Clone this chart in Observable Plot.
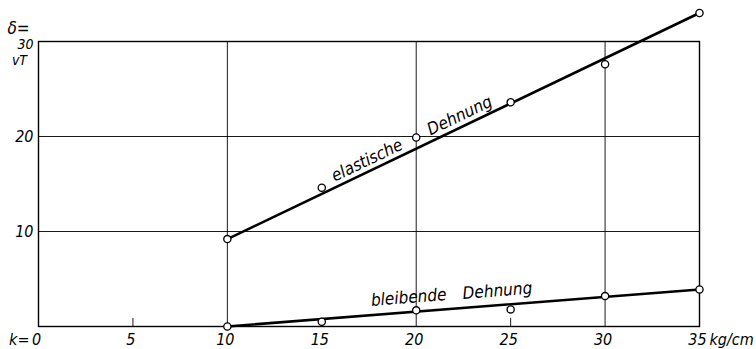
<!DOCTYPE html>
<html>
<head>
<meta charset="utf-8">
<script src="https://cdn.jsdelivr.net/npm/d3@7"></script>
<script src="https://cdn.jsdelivr.net/npm/@observablehq/plot@0.6"></script>
<style>
  html, body { margin: 0; padding: 0; background: #fff; }
  #chart svg { display: block; }
</style>
</head>
<body>
<div id="chart"></div>
<script>
// Load in kg/cm
const loads = [10, 15, 20, 25, 30, 35];
// measured elastic strain (elastische Dehnung)
const elastic = [9.2, 14.6, 19.9, 23.6, 27.6, 33.0];
// measured permanent strain (bleibende Dehnung)
const permanent = [0, 0.5, 1.7, 1.8, 3.2, 3.9];
// straight fitted lines
const fitX = [10, 35];
const elasticFit = [9.2, 33.0];
const permanentFit = [0, 3.9];
// axis ticks
const xTicks = [0, 5, 10, 15, 20, 25, 30, 35];
const xGrid = [10, 20, 30];
const xShortTicks = [5, 15, 25];
const yTicks = [10, 20];
const yGrid = [10, 20];

const font = "'DejaVu Sans Condensed', 'DejaVu Sans', sans-serif";

const elasticPts = loads.map((x, i) => ({x, y: elastic[i]}));
const permPts = loads.map((x, i) => ({x, y: permanent[i]}));
const elasticLine = fitX.map((x, i) => ({x, y: elasticFit[i]}));
const permLine = fitX.map((x, i) => ({x, y: permanentFit[i]}));

const txt = {fontFamily: font, fontStyle: "italic", fontSize: 16, fill: "black"};

const chart = Plot.plot({
  width: 756,
  height: 349,
  marginLeft: 38,
  marginRight: 57,
  marginTop: 41,
  marginBottom: 23,
  style: {fontFamily: font, background: "white", overflow: "visible"},
  x: {domain: [0, 35], axis: null},
  y: {domain: [0, 30], axis: null},
  marks: [
    Plot.ruleX(xGrid, {y1: 0, y2: 30, stroke: "black", strokeWidth: 0.9}),
    Plot.ruleY(yGrid, {x1: 0, x2: 35, stroke: "black", strokeWidth: 0.9}),
    Plot.ruleX(xShortTicks, {y1: 0, y2: 0.85, stroke: "black", strokeWidth: 0.9}),
    Plot.frame({stroke: "black", strokeWidth: 1.4}),
    Plot.line(elasticLine, {x: "x", y: "y", stroke: "black", strokeWidth: 2.6}),
    Plot.line(permLine, {x: "x", y: "y", stroke: "black", strokeWidth: 2.6}),
    Plot.dot(elasticPts, {x: "x", y: "y", r: 3.6, fill: "white", stroke: "black", strokeWidth: 1.3}),
    Plot.dot(permPts, {x: "x", y: "y", r: 3.6, fill: "white", stroke: "black", strokeWidth: 1.3}),
    // x tick labels
    Plot.text(xTicks, {x: d => d, y: 0, text: d => String(d), dy: 13, dx: -2, ...txt}),
    Plot.text(["k="], {x: 0, y: 0, text: d => d, dy: 13, dx: -9, textAnchor: "end", ...txt}),
    Plot.text(["kg/cm"], {x: 35, y: 0, text: d => d, dy: 13, dx: 10, textAnchor: "start", ...txt}),
    // y tick labels
    Plot.text(yTicks, {x: 0, y: d => d, text: d => String(d), dx: -5, textAnchor: "end", ...txt}),
    Plot.text(["30"], {x: 0, y: 30, text: d => d, dx: -5, dy: 3, textAnchor: "end", ...txt, fontSize: 14}),
    Plot.text(["δ="], {x: 0, y: 30, text: d => d, dx: -20, dy: -13, ...txt, fontSize: 17}),
    Plot.text(["vT"], {x: 0, y: 30, text: d => d, dx: -19, dy: 19, ...txt, fontSize: 14}),
    // line labels
    Plot.text(["elastische"], {x: 17.4, y: 17.5, text: d => d, rotate: -25.6, ...txt, fontSize: 17}),
    Plot.text(["Dehnung"], {x: 22.3, y: 22.2, text: d => d, rotate: -25.6, ...txt, fontSize: 17}),
    Plot.text(["bleibende"], {x: 19.6, y: 3.05, text: d => d, rotate: -4.5, ...txt, fontSize: 17}),
    Plot.text(["Dehnung"], {x: 24.3, y: 3.75, text: d => d, rotate: -4.5, ...txt, fontSize: 17})
  ]
});
document.getElementById("chart").appendChild(chart);
</script>
</body>
</html>
